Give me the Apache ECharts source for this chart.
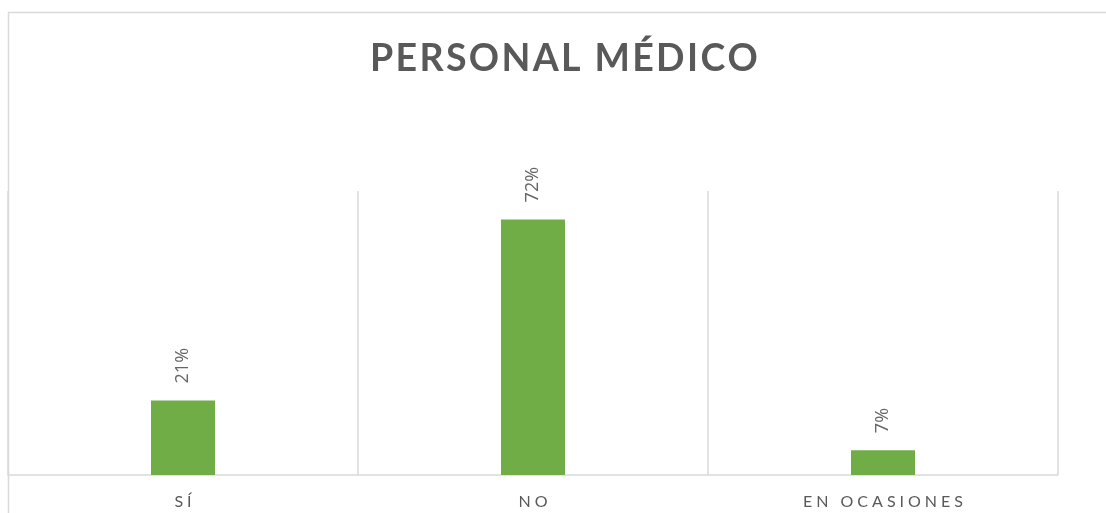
<!DOCTYPE html>
<html>
<head>
<meta charset="utf-8">
<script src="https://cdn.jsdelivr.net/npm/echarts@6/dist/echarts.min.js"></script>
<style>
html,body{margin:0;padding:0;background:#fff;}
#c{width:1106px;height:513px;}
</style>
</head>
<body>
<div id="c"></div>
<script>
const titleText = "PERSONAL MÉDICO";
const categories = ["SÍ", "NO", "EN OCASIONES"];
const values = [0.21, 0.72, 0.07];

function spaced(s, sep) { return Array.from(s).join(sep); }

const chart = echarts.init(document.getElementById('c'));
chart.setOption({
  backgroundColor: '#ffffff',
  animation: false,
  title: {
    text: spaced(titleText, '\u200A'),
    left: 365,
    top: 35,
    textStyle: { fontFamily: 'Lato', fontSize: 37.5, fontWeight: 'bold', color: '#595959' }
  },
  graphic: [{
    type: 'rect', silent: true, z: -1,
    shape: { x: 8.5, y: 12.5, width: 1120, height: 530 },
    style: { fill: 'none', stroke: '#d9d9d9', lineWidth: 1.5 }
  }],
  grid: { left: 8, right: 48, top: 191, bottom: 38, containLabel: false },
  xAxis: {
    type: 'category',
    data: categories,
    axisLine: { show: true, lineStyle: { color: '#d9d9d9', width: 1.5 } },
    axisTick: { show: false },
    splitLine: { show: true, lineStyle: { color: '#d9d9d9', width: 1.5 } },
    axisLabel: {
      margin: 19,
      fontFamily: 'Lato', fontSize: 16, color: '#595959',
      formatter: v => spaced(v, '\u2009\u2009')
    }
  },
  yAxis: {
    type: 'value', min: 0, max: 0.8,
    show: false,
    splitLine: { show: false }
  },
  series: [{
    type: 'bar',
    data: values,
    barWidth: 64,
    itemStyle: { color: '#70ad47' },
    label: {
      show: true,
      position: 'top',
      rotate: 90,
      distance: 17,
      align: 'left',
      verticalAlign: 'middle',
      fontFamily: 'Open Sans', fontSize: 18, color: '#666666',
      formatter: p => Math.round(p.value * 100) + '%'
    }
  }]
});
</script>
</body>
</html>
